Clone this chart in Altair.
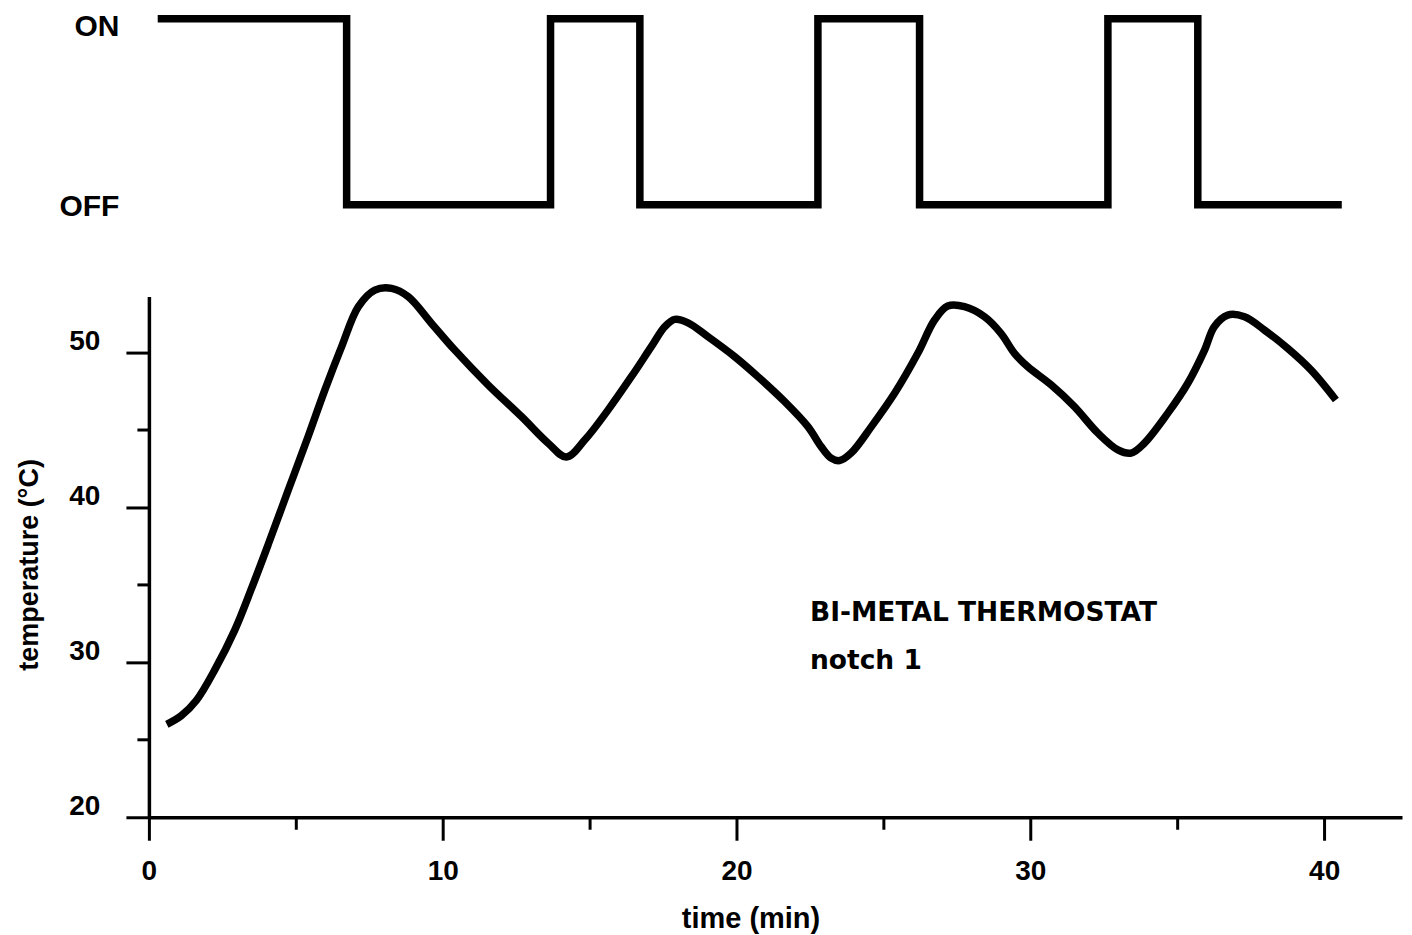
import altair as alt
import pandas as pd

# Heater state: switching times (min) and state after the switch (1 = ON, 0 = OFF)
switch_time = [0.3, 6.73, 13.67, 16.71, 22.77, 26.23, 32.64, 35.7, 40.6]
switch_state = [1, 0, 1, 0, 1, 0, 1, 0, 0]

# Temperature curve
temp_time = [0.61, 1.10, 1.62, 2.25, 2.93, 3.50, 4.06, 4.74, 5.42, 5.99, 6.56, 7.13, 7.69,
             8.26, 8.83, 9.62, 10.41, 11.55, 12.68, 13.59, 14.21, 14.84, 15.63, 16.42,
             17.10, 17.56, 17.90, 18.35, 19.03, 19.94, 20.73, 21.64, 22.43, 22.88, 23.22,
             23.51, 23.90, 24.59, 25.38, 26.17, 26.74, 27.19, 27.76, 28.44, 29.00, 29.46,
             29.91, 30.71, 31.50, 32.30, 32.98, 33.43, 33.88, 34.68, 35.36, 35.93, 36.26,
             36.72, 37.29, 37.97, 38.76, 39.55, 40.40]
temp_value = [26.00, 26.55, 27.55, 29.54, 32.11, 34.80, 37.60, 41.10, 44.57, 47.58, 50.37,
              52.95, 54.02, 54.13, 53.59, 51.87, 50.15, 47.89, 45.86, 44.14, 43.25, 44.36,
              46.29, 48.43, 50.37, 51.66, 52.13, 51.91, 51.01, 49.72, 48.43, 46.82, 45.21,
              43.92, 43.18, 43.02, 43.50, 45.21, 47.36, 49.94, 52.09, 52.99, 52.95, 52.30,
              51.23, 49.94, 49.08, 47.90, 46.50, 44.79, 43.71, 43.50, 44.14, 46.08, 48.01,
              50.15, 51.66, 52.41, 52.30, 51.44, 50.26, 48.87, 46.93]

note_x = [22.5, 22.5]
note_y = [32.65, 29.54]
note_text = ["BI-METAL THERMOSTAT", "notch 1"]

x_ticks = [0, 5, 10, 15, 20, 25, 30, 35, 40]
y_ticks = [20, 25, 30, 35, 40, 45, 50]
X_DOMAIN = [0, 42.65]
Y_DOMAIN = [20, 53.6]
W = 1254
FONT = "Liberation Sans"

state_df = pd.DataFrame({"t": switch_time, "s": switch_state})
temp_df = pd.DataFrame({"t": temp_time, "T": temp_value})
note_df = pd.DataFrame({"t": note_x, "T": note_y, "text": note_text})

x_scale = alt.Scale(domain=X_DOMAIN, nice=False, zero=False)

top = alt.Chart(state_df).mark_line(
    interpolate="step-after", color="black", strokeWidth=7.5,
    strokeJoin="miter", strokeCap="butt"
).encode(
    x=alt.X("t:Q", scale=x_scale, axis=None),
    y=alt.Y("s:Q", scale=alt.Scale(domain=[0, 1], nice=False),
            axis=alt.Axis(values=[0, 1],
                          labelExpr="datum.value === 1 ? 'ON' : 'OFF'",
                          ticks=False, tickSize=0, domain=False, grid=False,
                          title=None, labelFont=FONT, labelFontSize=30,
                          labelFontWeight="bold", labelColor="black",
                          labelPadding=30, labelFlush=False, labelOverlap=False,
                          labelBaseline="middle",
                          labelOffset={"condition": {"test": "datum.value === 1", "value": 7.5},
                                       "value": 1.5})),
).properties(width=W, height=186)

curve = alt.Chart(temp_df).mark_line(
    interpolate="catmull-rom", color="black", strokeWidth=7.5, strokeCap="butt"
).encode(
    x=alt.X("t:Q", scale=x_scale,
            axis=alt.Axis(values=x_ticks,
                          labelExpr="datum.value % 10 === 0 ? datum.label : ''",
                          tickSize={"condition": {"test": "datum.value % 10 === 0", "value": 23},
                                    "value": 12},
                          tickWidth=3, tickColor="black", domainColor="black", domainWidth=3.5,
                          labelFont=FONT, labelFontSize=28, labelFontWeight="bold",
                          labelColor="black", labelPadding=17, labelFlush=False,
                          labelOverlap=False, grid=False,
                          title="time (min)", titleFont=FONT, titleFontSize=29,
                          titleFontWeight="bold", titleColor="black", titlePadding=19,
                          titleX=602)),
    y=alt.Y("T:Q", scale=alt.Scale(domain=Y_DOMAIN, nice=False, zero=False),
            axis=alt.Axis(values=y_ticks,
                          labelExpr="datum.value % 10 === 0 ? datum.label : ''",
                          tickSize={"condition": {"test": "datum.value % 10 === 0", "value": 23},
                                    "value": 12},
                          tickWidth=3, tickColor="black", domainColor="black", domainWidth=3.5,
                          labelFont=FONT, labelFontSize=28, labelFontWeight="bold",
                          labelColor="black", labelPadding=26, labelOffset=-11,
                          labelFlush=False, labelOverlap=False, grid=False,
                          title="temperature (°C)", titleFont=FONT, titleFontSize=27,
                          titleFontWeight="bold", titleColor="black", titlePadding=25,
                          titleY=268)),
)

notes = alt.Chart(note_df).mark_text(
    align="left", baseline="alphabetic", font="DejaVu Sans", fontSize=26.5,
    fontWeight="bold", color="black"
).encode(
    x=alt.X("t:Q", scale=x_scale),
    y=alt.Y("T:Q", scale=alt.Scale(domain=Y_DOMAIN, nice=False, zero=False)),
    text="text:N",
)

bottom = alt.layer(curve, notes).properties(width=W, height=521)

chart = alt.vconcat(top, bottom, spacing=92, bounds="flush").properties(
    padding={"left": 7, "top": -4.5, "right": 2, "bottom": 0},
    background="white",
).configure_view(stroke=None)

chart.save("out.html", embed_options={"renderer": "svg", "actions": False})
